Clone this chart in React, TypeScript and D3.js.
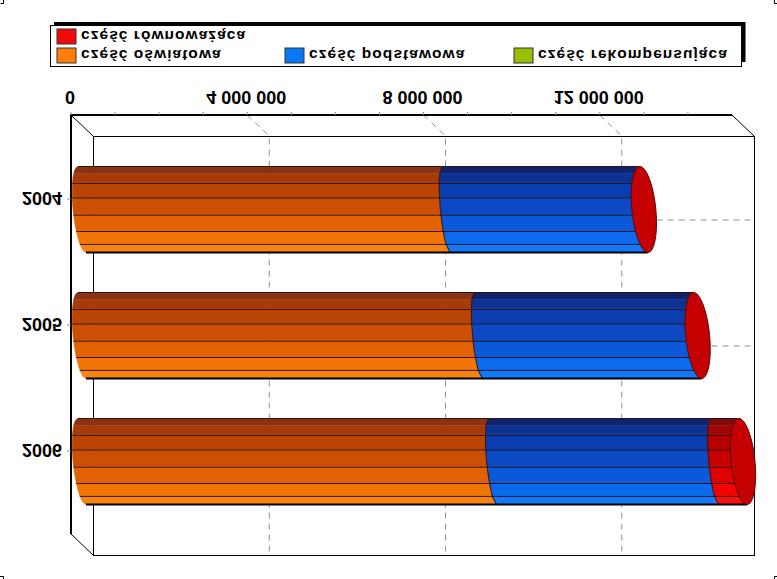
import React from 'react';
import * as d3 from 'd3';

const years = ['2004', '2005', '2006'];
const oswiatowa = [8270000, 9000000, 9320000];
const podstawowa = [4480000, 4970000, 5040000];
const rekompensujaca = [0, 0, 0];
const rownowazaca = [0, 0, 640000];
const seriesKeys = ['oswiatowa', 'podstawowa', 'rekompensujaca', 'rownowazaca'];
const xTicks = [0, 4000000, 8000000, 12000000];
const minorTicks = d3.range(0, 15000000, 1000000);
const shadeStops = [0, 0.08, 0.19, 0.36, 0.56, 0.75, 0.9, 1];
const lineStops = [0.19, 0.36, 0.56, 0.75, 0.9];

const facetColors: Record<string, string[]> = {
  oswiatowa: ['#8a3212', '#a63a08', '#bc4403', '#cc5003', '#e26202', '#f07506', '#f68212'],
  podstawowa: ['#10246e', '#0c3294', '#0a3eb0', '#0b4ac4', '#0b58d8', '#0b6aee', '#127af8'],
  rekompensujaca: ['#5a7400', '#6e8c00', '#7a9a00', '#86a800', '#90b400', '#99c000', '#a2ca00'],
  rownowazaca: ['#800c0c', '#a00606', '#b80000', '#c80000', '#e00000', '#f20404', '#f61010'],
};
const legendItems = [
  { label: 'część równoważąca', color: '#f20a0a', x: 57, y: 29 },
  { label: 'część oświatowa', color: '#ff7f0a', x: 57, y: 48 },
  { label: 'część podstawowa', color: '#0a78f5', x: 285, y: 48 },
  { label: 'część rekompensująca', color: '#99c000', x: 514, y: 48 },
];

const W = 777;
const H = 579;
const front = { left: 71, right: 732, top: 115, bottom: 534 };
const depth = { x: 22, y: 21 };
const barHalf = 43;
const capRx = 12;
const innerRx = 6;
const startRx = 9;
const arcSkew = 4;
const font = '"Liberation Sans", Arial, sans-serif';

const x = d3.scaleLinear().domain([0, 15000000]).range([front.left, front.right]);
const y = d3.scalePoint<string>().domain(years).range([199, 451]);

const rows = years.map((year, i) => ({
  year,
  oswiatowa: oswiatowa[i],
  podstawowa: podstawowa[i],
  rekompensujaca: rekompensujaca[i],
  rownowazaca: rownowazaca[i],
}));
const stacked = d3.stack<any>().keys(seriesKeys)(rows);

const pathLine = d3.line<[number, number]>();

// left half of a tilted ellipse, between two fractions of the bar height
const arcPoints = (cx: number, cy: number, rx: number, from: number, to: number): [number, number][] =>
  d3.range(0, 13).map((k) => {
    const t = from + ((to - from) * k) / 12;
    const f = t * 2 - 1;
    return [cx + arcSkew * f - rx * Math.sqrt(Math.max(0, 1 - f * f)), cy + barHalf * f];
  });

const capPath = (cx: number, cy: number) => {
  const pts: [number, number][] = d3.range(0, 49).map((k) => {
    const a = (k / 48) * Math.PI * 2;
    return [cx + arcSkew * Math.sin(a) + capRx * Math.cos(a), cy + barHalf * Math.sin(a)];
  });
  return pathLine(pts) + 'Z';
};

const FlippedText = ({ px, py, anchor = 'middle', size = 18, spacing = 0, children }: any) => (
  <text
    transform={`translate(${px},${py}) scale(1,-1)`}
    textAnchor={anchor}
    fontFamily={font}
    fontWeight="bold"
    fontSize={size}
    letterSpacing={spacing}
    fill="#000"
  >
    {children}
  </text>
);

const App = () => {
  const gridColor = '#8f8f8f';
  return (
    <svg width={W} height={H} style={{ position: 'absolute', left: 0, top: 0, background: '#fff' }}>
      {/* crop marks */}
      <path d="M0.5 3.5H3.5V0 M777 3.5H774.5V0 M0 576.5H3.5V579 M777 576.5H774.5V579" fill="none" stroke="#000" />

      {/* legend */}
      <path d="M54 24H743.5V62" fill="none" stroke="#000" strokeWidth={4} />
      <rect x={50.5} y={25.5} width={691} height={41} fill="#fff" stroke="#000" />
      {legendItems.map((d) => (
        <g key={d.label}>
          <rect x={d.x} y={d.y} width={19} height={15} fill={d.color} stroke="#333" />
          <FlippedText px={d.x + 24} py={d.y + 2} anchor="start" size={15.5} spacing={1.05}>
            {d.label}
          </FlippedText>
        </g>
      ))}

      {/* back wall and floor */}
      <rect
        x={front.left + depth.x + 0.5}
        y={front.top + depth.y + 0.5}
        width={front.right - front.left}
        height={front.bottom - front.top}
        fill="#fff"
        stroke="#000"
      />
      <path
        d={`M${front.left} ${front.top}l${depth.x} ${depth.y}M${front.right} ${front.top}l${depth.x} ${depth.y}M${front.left} ${front.bottom}l${depth.x} ${depth.y}`}
        stroke="#000"
        fill="none"
      />

      {/* grid */}
      <g stroke={gridColor} strokeDasharray="6,5" fill="none">
        {xTicks.slice(1).map((t) => (
          <path
            key={t}
            d={`M${x(t)} ${front.top}l${depth.x} ${depth.y}V${front.bottom + depth.y}`}
          />
        ))}
        {years.map((yr) => (
          <path
            key={yr}
            d={`M${front.left} ${y(yr)}l${depth.x} ${depth.y}H${front.right + depth.x}`}
          />
        ))}
      </g>

      {/* axes */}
      <line x1={front.left} x2={front.right} y1={front.top} y2={front.top} stroke="#000" strokeWidth={2} />
      <line x1={front.left} x2={front.left} y1={front.top - 1} y2={front.bottom} stroke="#000" strokeWidth={2} />
      {minorTicks.map((t) => (
        <line key={t} x1={x(t)} x2={x(t)} y1={front.top - 3} y2={front.top} stroke={gridColor} />
      ))}
      {xTicks.map((t) => (
        <FlippedText key={t} px={x(t) - 1} py={91}>
          {d3.format(',')(t).replace(/,/g, ' ')}
        </FlippedText>
      ))}
      {years.map((yr) => (
        <g key={yr}>
          <line x1={front.left - 4} x2={front.left} y1={y(yr)} y2={y(yr)} stroke={gridColor} />
          <FlippedText px={62} py={(y(yr) as number) - 7} anchor="end">
            {yr}
          </FlippedText>
        </g>
      ))}

      {/* cylinders */}
      {years.map((yr, i) => {
        const cy = (y(yr) as number) + depth.y / 2;
        const offset = depth.x / 2;
        const total = stacked[stacked.length - 1][i][1];
        const rxAt = (v: number) => (v === 0 ? startRx : innerRx);
        return (
          <g key={yr}>
            {stacked.map((s) => {
              const [v0, v1] = s[i];
              if (v1 <= v0) return null;
              return facetColors[s.key].map((color, j) => {
                const a = arcPoints(x(v0) + offset, cy, rxAt(v0), shadeStops[j], shadeStops[j + 1]);
                const b = arcPoints(x(v1) + offset, cy, rxAt(v1), shadeStops[j], shadeStops[j + 1]);
                return (
                  <path
                    key={s.key + j}
                    d={pathLine([...a, ...b.reverse()]) + 'Z'}
                    fill={color}
                    stroke={color}
                    strokeWidth={0.5}
                  />
                );
              });
            })}
            {/* facet lines across the body */}
            {lineStops.map((t) => {
              const a = arcPoints(x(0) + offset, cy, startRx, t, t)[0];
              const b = arcPoints(x(total) + offset, cy, innerRx, t, t)[0];
              return (
                <line
                  key={t}
                  x1={a[0]}
                  x2={b[0]}
                  y1={a[1] + 0.5}
                  y2={a[1] + 0.5}
                  stroke="#200c0c"
                  strokeWidth={1}
                  opacity={0.9}
                />
              );
            })}
            {/* edges between segments */}
            {stacked.map((s) => {
              const [v0, v1] = s[i];
              if (v1 <= v0 || v0 === 0) return null;
              return (
                <path
                  key={s.key}
                  d={pathLine(arcPoints(x(v0) + offset, cy, innerRx, 0, 1)) as string}
                  fill="none"
                  stroke="#3a1008"
                  strokeWidth={1}
                />
              );
            })}
            <line
              x1={x(0) + offset - arcSkew}
              x2={x(total) + offset - arcSkew}
              y1={cy - barHalf}
              y2={cy - barHalf}
              stroke="#30100c"
            />
            <line
              x1={x(0) + offset + arcSkew}
              x2={x(total) + offset + arcSkew}
              y1={cy + barHalf}
              y2={cy + barHalf}
              stroke="#000"
              strokeWidth={2}
            />
            <path d={capPath(x(total) + offset, cy)} fill="#c40000" stroke="#5a0a0a" />
          </g>
        );
      })}
    </svg>
  );
};

export default App;
